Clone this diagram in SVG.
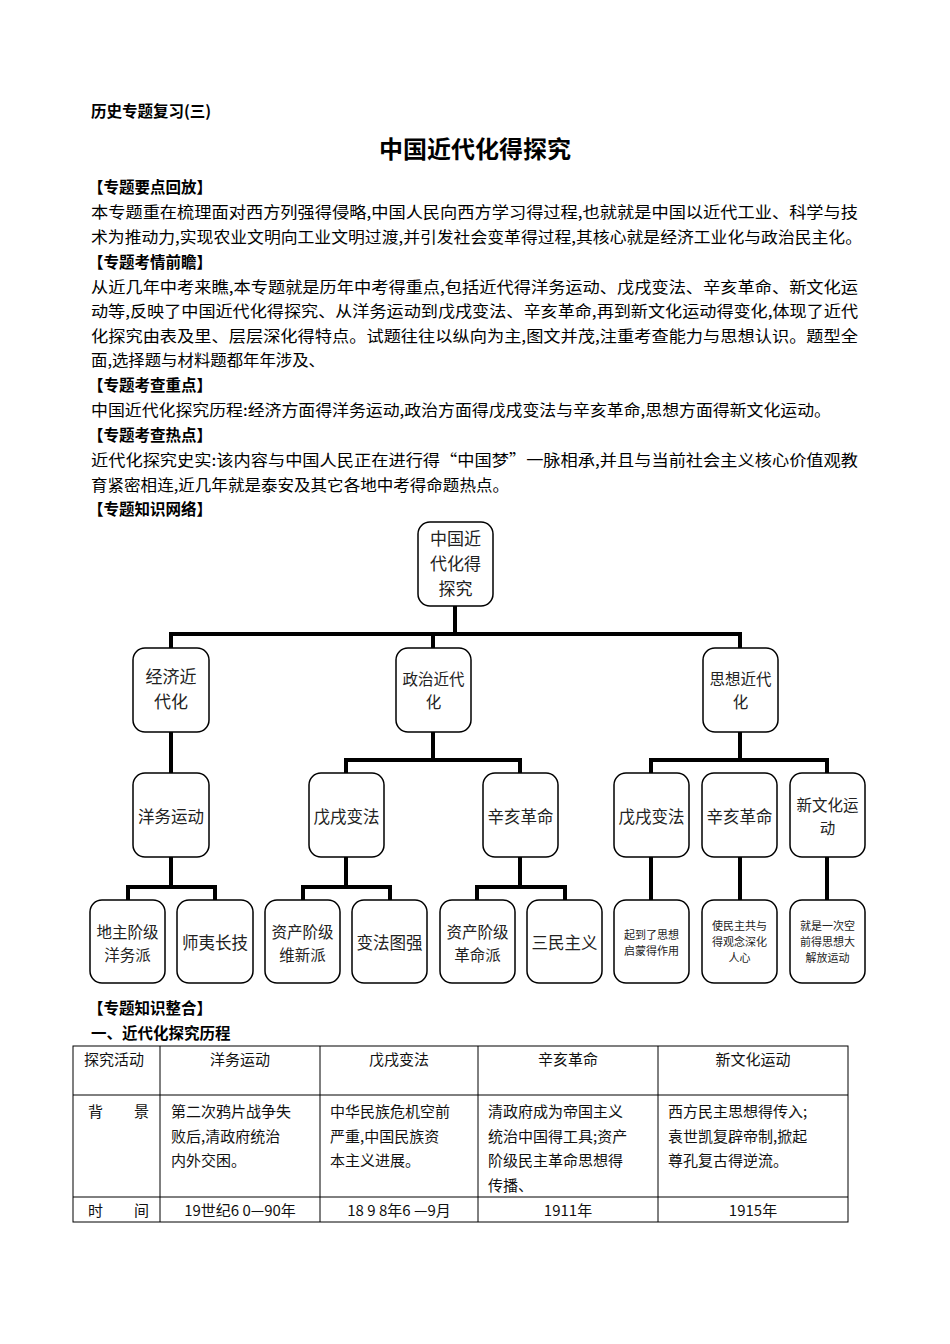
<svg xmlns="http://www.w3.org/2000/svg" width="950" height="1344" viewBox="0 0 950 1344">
<style>
text{font-family:"Noto Sans CJK SC","Liberation Sans",sans-serif;fill:#000}
.h{font-weight:bold;font-size:15.5px}
.b{font-size:15.5px}
.t{font-size:15px;fill:#111}
.n rect{fill:#fff;stroke:#000;stroke-width:1.5}
.n text{text-anchor:middle;fill:#222}
.m{font-size:16.5px}
.m2{font-size:15.5px}
.s{font-size:11px}
.c{fill:none;stroke:#000;stroke-width:4}
.tb{fill:none;stroke:#000;stroke-width:1}
.ct{text-anchor:middle}
</style>
<rect width="950" height="1344" fill="#fff"/>
<g id="header">
<text class="h" x="91" y="117" font-size="15">历史专题复习(三)</text>
<text x="475" y="158" text-anchor="middle" font-size="24" font-weight="bold">中国近代化得探究</text>
<text class="h" x="88" y="193">【专题要点回放】</text>
<text class="b" x="91" y="218" textLength="767" lengthAdjust="spacingAndGlyphs">本专题重在梳理面对西方列强得侵略,中国人民向西方学习得过程,也就就是中国以近代工业、科学与技</text>
<text class="b" x="91" y="243" textLength="771" lengthAdjust="spacingAndGlyphs">术为推动力,实现农业文明向工业文明过渡,并引发社会变革得过程,其核心就是经济工业化与政治民主化。</text>
<text class="h" x="88" y="268">【专题考情前瞻】</text>
<text class="b" x="91" y="293" textLength="767" lengthAdjust="spacingAndGlyphs">从近几年中考来瞧,本专题就是历年中考得重点,包括近代得洋务运动、戊戌变法、辛亥革命、新文化运</text>
<text class="b" x="91" y="317" textLength="767" lengthAdjust="spacingAndGlyphs">动等,反映了中国近代化得探究、从洋务运动到戊戌变法、辛亥革命,再到新文化运动得变化,体现了近代</text>
<text class="b" x="91" y="342" textLength="767" lengthAdjust="spacingAndGlyphs">化探究由表及里、层层深化得特点。试题往往以纵向为主,图文并茂,注重考查能力与思想认识。题型全</text>
<text class="b" x="91" y="366" textLength="234" lengthAdjust="spacingAndGlyphs">面,选择题与材料题都年年涉及、</text>
<text class="h" x="88" y="391">【专题考查重点】</text>
<text class="b" x="91" y="416" textLength="740" lengthAdjust="spacingAndGlyphs">中国近代化探究历程:经济方面得洋务运动,政治方面得戊戌变法与辛亥革命,思想方面得新文化运动。</text>
<text class="h" x="88" y="441">【专题考查热点】</text>
<text class="b" x="91" y="466" textLength="767" lengthAdjust="spacingAndGlyphs">近代化探究史实:该内容与中国人民正在进行得“中国梦”一脉相承,并且与当前社会主义核心价值观教</text>
<text class="b" x="91" y="491" textLength="418" lengthAdjust="spacingAndGlyphs">育紧密相连,近几年就是泰安及其它各地中考得命题热点。</text>
<text class="h" x="88" y="515">【专题知识网络】</text>
</g>
<g id="connectors">
<path class="c" d="M455 606V634M171 648V634H740V648M433 634V648"/>
<path class="c" d="M171 732V773"/>
<path class="c" d="M433 732V760M346 773V760H520V773"/>
<path class="c" d="M740 732V760M651 773V760H827V773"/>
<path class="c" d="M171 857V887M128 900V887H215V900"/>
<path class="c" d="M346 857V887M303 900V887H390V900"/>
<path class="c" d="M520 857V887M477 900V887H565V900"/>
<path class="c" d="M651 857V900M740 857V900M827 857V900"/>
</g>
<g id="root" class="n"><rect x="418" y="522" width="75" height="84" rx="12"/><text font-size="17" x="455.500" y="545">中国近<tspan x="455.500" dy="25">代化得</tspan><tspan x="455.500" dy="25">探究</tspan></text></g>
<g id="econ" class="n"><rect x="133" y="648" width="76" height="84" rx="12"/><text font-size="17" x="171" y="683">经济近<tspan x="171" dy="25">代化</tspan></text></g>
<g id="pol" class="n"><rect x="396" y="648" width="75" height="84" rx="12"/><text class="m2" x="433.500" y="685">政治近代<tspan x="433.500" dy="23">化</tspan></text></g>
<g id="thought" class="n"><rect x="703" y="648" width="75" height="84" rx="12"/><text class="m2" x="740.500" y="685">思想近代<tspan x="740.500" dy="23">化</tspan></text></g>
<g id="yangwu" class="n"><rect x="133" y="773" width="76" height="84" rx="12"/><text class="m" x="171" y="823">洋务运动</text></g>
<g id="wuxu1" class="n"><rect x="309" y="773" width="75" height="84" rx="12"/><text class="m" x="346.500" y="823">戊戌变法</text></g>
<g id="xinhai1" class="n"><rect x="483" y="773" width="75" height="84" rx="12"/><text class="m" x="520.500" y="823">辛亥革命</text></g>
<g id="wuxu2" class="n"><rect x="614" y="773" width="75" height="84" rx="12"/><text class="m" x="651.500" y="823">戊戌变法</text></g>
<g id="xinhai2" class="n"><rect x="702" y="773" width="75" height="84" rx="12"/><text class="m" x="739.500" y="823">辛亥革命</text></g>
<g id="xinwenhua" class="n"><rect x="790" y="773" width="75" height="84" rx="12"/><text class="m2" x="827.500" y="811">新文化运<tspan x="827.500" dy="23">动</tspan></text></g>
<g id="dizhu" class="n"><rect x="90" y="900" width="75" height="83" rx="12"/><text class="m2" x="127.500" y="938">地主阶级<tspan x="127.500" dy="23">洋务派</tspan></text></g>
<g id="shiyi" class="n"><rect x="177" y="900" width="76" height="83" rx="12"/><text class="m" x="215" y="949">师夷长技</text></g>
<g id="weixin" class="n"><rect x="265" y="900" width="75" height="83" rx="12"/><text class="m2" x="302.500" y="938">资产阶级<tspan x="302.500" dy="23">维新派</tspan></text></g>
<g id="bianfa" class="n"><rect x="352" y="900" width="75" height="83" rx="12"/><text class="m" x="389.500" y="949">变法图强</text></g>
<g id="geming" class="n"><rect x="440" y="900" width="75" height="83" rx="12"/><text class="m2" x="477.500" y="938">资产阶级<tspan x="477.500" dy="23">革命派</tspan></text></g>
<g id="sanmin" class="n"><rect x="527" y="900" width="75" height="83" rx="12"/><text class="m" x="564.500" y="949">三民主义</text></g>
<g id="qimeng" class="n"><rect x="614" y="900" width="75" height="83" rx="12"/><text class="s" x="651.500" y="939">起到了思想<tspan x="651.500" dy="16">启蒙得作用</tspan></text></g>
<g id="minzhu" class="n"><rect x="702" y="900" width="75" height="83" rx="12"/><text class="s" x="739.500" y="930">使民主共与<tspan x="739.500" dy="16">得观念深化</tspan><tspan x="739.500" dy="16">人心</tspan></text></g>
<g id="jiefang" class="n"><rect x="790" y="900" width="75" height="83" rx="12"/><text class="s" x="827.500" y="930">就是一次空<tspan x="827.500" dy="16">前得思想大</tspan><tspan x="827.500" dy="16">解放运动</tspan></text></g>
<g id="section2">
<text class="h" x="88" y="1014">【专题知识整合】</text>
<text class="h" x="91" y="1039">一、近代化探究历程</text>
</g>
<g id="table">
<rect class="tb" x="73" y="1046" width="775" height="176"/>
<path class="tb" d="M160 1046V1222M320 1046V1222M478 1046V1222M658 1046V1222M73 1095H848M73 1197H848"/>
<text class="t" x="84" y="1065">探究活动</text>
<text class="t ct" x="240" y="1065">洋务运动</text>
<text class="t ct" x="399" y="1065">戊戌变法</text>
<text class="t ct" x="568" y="1065">辛亥革命</text>
<text class="t ct" x="753" y="1065">新文化运动</text>
<text class="t" x="88" y="1117">背</text>
<text class="t" x="134" y="1117">景</text>
<text class="t" x="171" y="1117">第二次鸦片战争失<tspan x="171" dy="24.5">败后,清政府统治</tspan><tspan x="171" dy="24.5">内外交困。</tspan></text>
<text class="t" x="330" y="1117">中华民族危机空前<tspan x="330" dy="24.5">严重,中国民族资</tspan><tspan x="330" dy="24.5">本主义进展。</tspan></text>
<text class="t" x="488" y="1117">清政府成为帝国主义<tspan x="488" dy="24.5">统治中国得工具;资产</tspan><tspan x="488" dy="24.5">阶级民主革命思想得</tspan><tspan x="488" dy="24.5">传播、</tspan></text>
<text class="t" x="668" y="1117">西方民主思想得传入;<tspan x="668" dy="24.5">袁世凯复辟帝制,掀起</tspan><tspan x="668" dy="24.5">尊孔复古得逆流。</tspan></text>
<text class="t" x="88" y="1216">时</text>
<text class="t" x="134" y="1216">间</text>
<text class="t ct" x="240" y="1216">19世纪6 0—90年</text>
<text class="t ct" x="399" y="1216">18 9 8年6 —9月</text>
<text class="t ct" x="568" y="1216">1911年</text>
<text class="t ct" x="753" y="1216">1915年</text>
</g>
</svg>
